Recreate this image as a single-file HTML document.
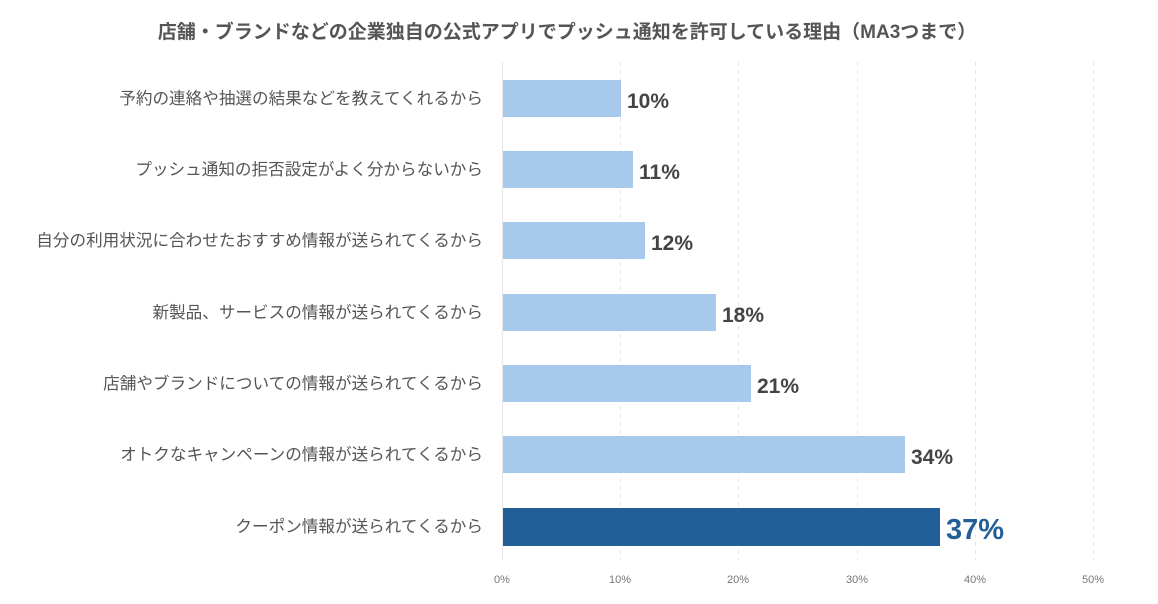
<!DOCTYPE html>
<html><head><meta charset="utf-8"><style>
body{margin:0;background:#fff;width:1158px;height:599px;overflow:hidden;font-family:"Liberation Sans","Noto Sans CJK JP",sans-serif;}
</style></head><body>
<svg width="1158" height="599" xmlns="http://www.w3.org/2000/svg" font-family="Liberation Sans, Noto Sans CJK JP, sans-serif">
<text x="567" y="38" text-anchor="middle" font-size="19" font-weight="bold" fill="#555">店舗・ブランドなどの企業独自の公式アプリでプッシュ通知を許可している理由（MA3つまで）</text>
<g stroke="#e6e6e6" stroke-dasharray="4,4" stroke-width="1">
<line x1="620.5" y1="62" x2="620.5" y2="560"/><line x1="738.5" y1="62" x2="738.5" y2="560"/><line x1="857.5" y1="62" x2="857.5" y2="560"/><line x1="975.5" y1="62" x2="975.5" y2="560"/><line x1="1093.5" y1="62" x2="1093.5" y2="560"/>
</g>
<line x1="502.5" y1="62" x2="502.5" y2="560" stroke="#e6e6e6"/>
<g font-size="11" fill="#777" text-anchor="middle">
<text x="502" y="583">0%</text><text x="620" y="583">10%</text><text x="738" y="583">20%</text><text x="857" y="583">30%</text><text x="975" y="583">40%</text><text x="1093" y="583">50%</text>
</g>
<g fill="#a7c9ec">
<rect x="503" y="80" width="118" height="37"/>
<rect x="503" y="151" width="130" height="37"/>
<rect x="503" y="222" width="142" height="37"/>
<rect x="503" y="294" width="213" height="37"/>
<rect x="503" y="365" width="248" height="37"/>
<rect x="503" y="436" width="402" height="37"/>
</g>
<rect x="503" y="508" width="437" height="38" fill="#225f99"/>
<g font-size="16.6" fill="#555" text-anchor="end">
<text x="483" y="104">予約の連絡や抽選の結果などを教えてくれるから</text>
<text x="483" y="175">プッシュ通知の拒否設定がよく分からないから</text>
<text x="483" y="246">自分の利用状況に合わせたおすすめ情報が送られてくるから</text>
<text x="483" y="318">新製品、サービスの情報が送られてくるから</text>
<text x="483" y="389">店舗やブランドについての情報が送られてくるから</text>
<text x="483" y="460">オトクなキャンペーンの情報が送られてくるから</text>
<text x="483" y="532">クーポン情報が送られてくるから</text>
</g>
<g font-size="21" font-weight="bold" fill="#444">
<text x="627" y="108">10%</text>
<text x="639" y="179">11%</text>
<text x="651" y="250">12%</text>
<text x="722" y="322">18%</text>
<text x="757" y="393">21%</text>
<text x="911" y="464">34%</text>
</g>
<text x="946" y="539" font-size="29" font-weight="bold" fill="#225f99">37%</text>
</svg>
</body></html>
